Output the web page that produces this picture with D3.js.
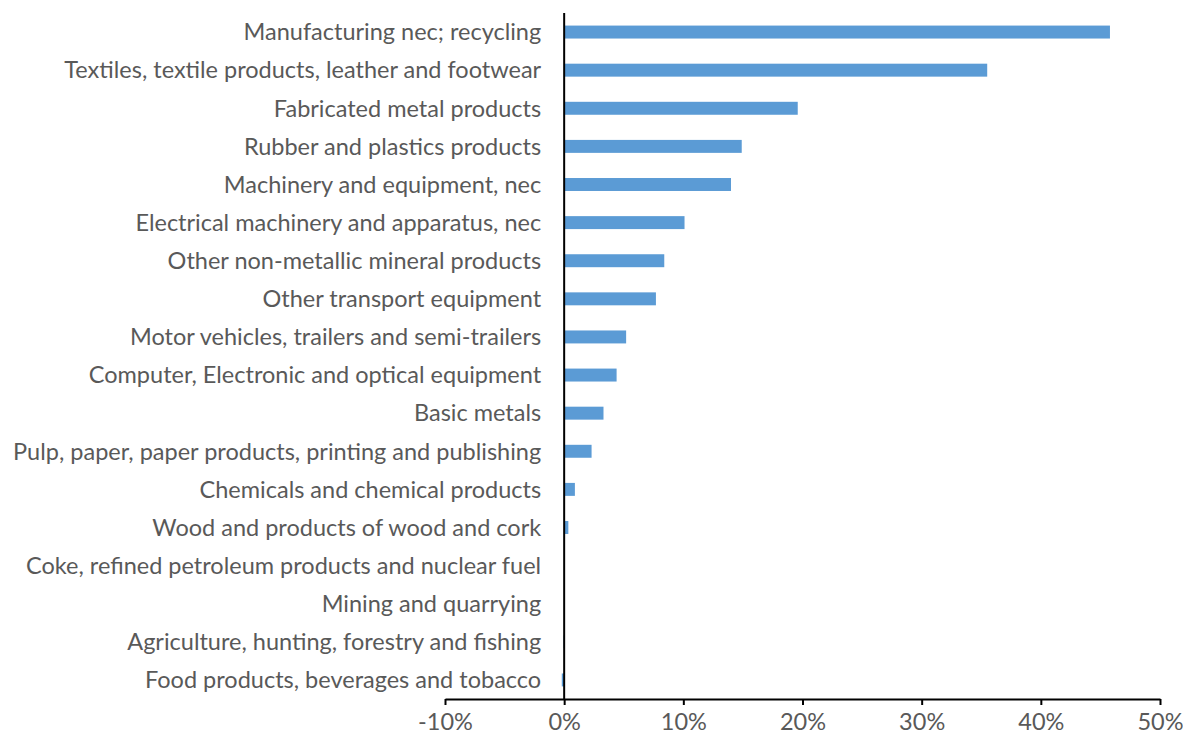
<!DOCTYPE html>
<html>
<head>
<meta charset="utf-8">
<script src="https://cdn.jsdelivr.net/npm/d3@7"></script>
<style>
  html, body { margin: 0; padding: 0; background: #fff; }
  svg { display: block; }
  .cat text { font-family: Lato, "Open Sans", sans-serif; font-size: 23.5px; fill: #595959; }
  .xax text { font-family: Lato, "Open Sans", sans-serif; font-size: 23.5px; fill: #595959; }
</style>
</head>
<body>
<svg id="chart" width="1183" height="740"></svg>
<script>
// Industry categories, top to bottom
const categories = [
  "Manufacturing nec; recycling",
  "Textiles, textile products, leather and footwear",
  "Fabricated metal products",
  "Rubber and plastics products",
  "Machinery and equipment, nec",
  "Electrical machinery and apparatus, nec",
  "Other non-metallic mineral products",
  "Other transport equipment",
  "Motor vehicles, trailers and semi-trailers",
  "Computer, Electronic and optical equipment",
  "Basic metals",
  "Pulp, paper, paper products, printing and publishing",
  "Chemicals and chemical products",
  "Wood and products of wood and cork",
  "Coke, refined petroleum products and nuclear fuel",
  "Mining and quarrying",
  "Agriculture, hunting, forestry and fishing",
  "Food products, beverages and tobacco"
];

// Share values (fractions)
const values = [
  0.458, 0.355, 0.196, 0.149, 0.140, 0.101, 0.084, 0.077, 0.052,
  0.044, 0.033, 0.023, 0.009, 0.0035, 0.0, 0.0, -0.0005, -0.002
];

// Axis ticks
const xTicks = [-0.1, 0, 0.1, 0.2, 0.3, 0.4, 0.5];

const svg = d3.select("#chart");
const plot = { left: 445, right: 1160, top: 13, bottom: 699 };

const x = d3.scaleLinear().domain([-0.1, 0.5]).range([plot.left, plot.right]);
const y = d3.scaleBand().domain(categories).range([plot.top, plot.bottom]).paddingInner(0.66).paddingOuter(0.33);

// Bars
svg.append("g")
  .selectAll("rect")
  .data(categories.map((c, i) => ({ c, v: values[i] })))
  .join("rect")
  .attr("x", d => x(Math.min(0, d.v)))
  .attr("y", d => y(d.c))
  .attr("width", d => Math.abs(x(d.v) - x(0)))
  .attr("height", y.bandwidth())
  .attr("fill", "#5B9BD5");

// Category axis at zero
const yAxis = svg.append("g")
  .attr("class", "cat")
  .attr("transform", `translate(${x(0)},0)`)
  .call(d3.axisLeft(y).tickSize(0).tickPadding(23));
yAxis.select(".domain").remove();
yAxis.selectAll("text").attr("dy", "0.35em");
svg.append("line")
  .attr("x1", x(0)).attr("x2", x(0))
  .attr("y1", plot.top).attr("y2", plot.bottom)
  .attr("stroke", "#000").attr("stroke-width", 2);

// Value axis (percent labels with a plain hyphen for negatives)
const pct = d => `${Math.round(d * 100)}%`;
const xAxis = svg.append("g")
  .attr("class", "xax")
  .attr("transform", `translate(0,${plot.bottom})`)
  .call(d3.axisBottom(x).tickValues(xTicks).tickFormat(pct).tickSizeInner(6).tickSizeOuter(0).tickPadding(8));
xAxis.select(".domain").attr("stroke", "#000").attr("stroke-width", 2);
xAxis.selectAll(".tick line").attr("stroke", "#000").attr("stroke-width", 2);
</script>
</body>
</html>
